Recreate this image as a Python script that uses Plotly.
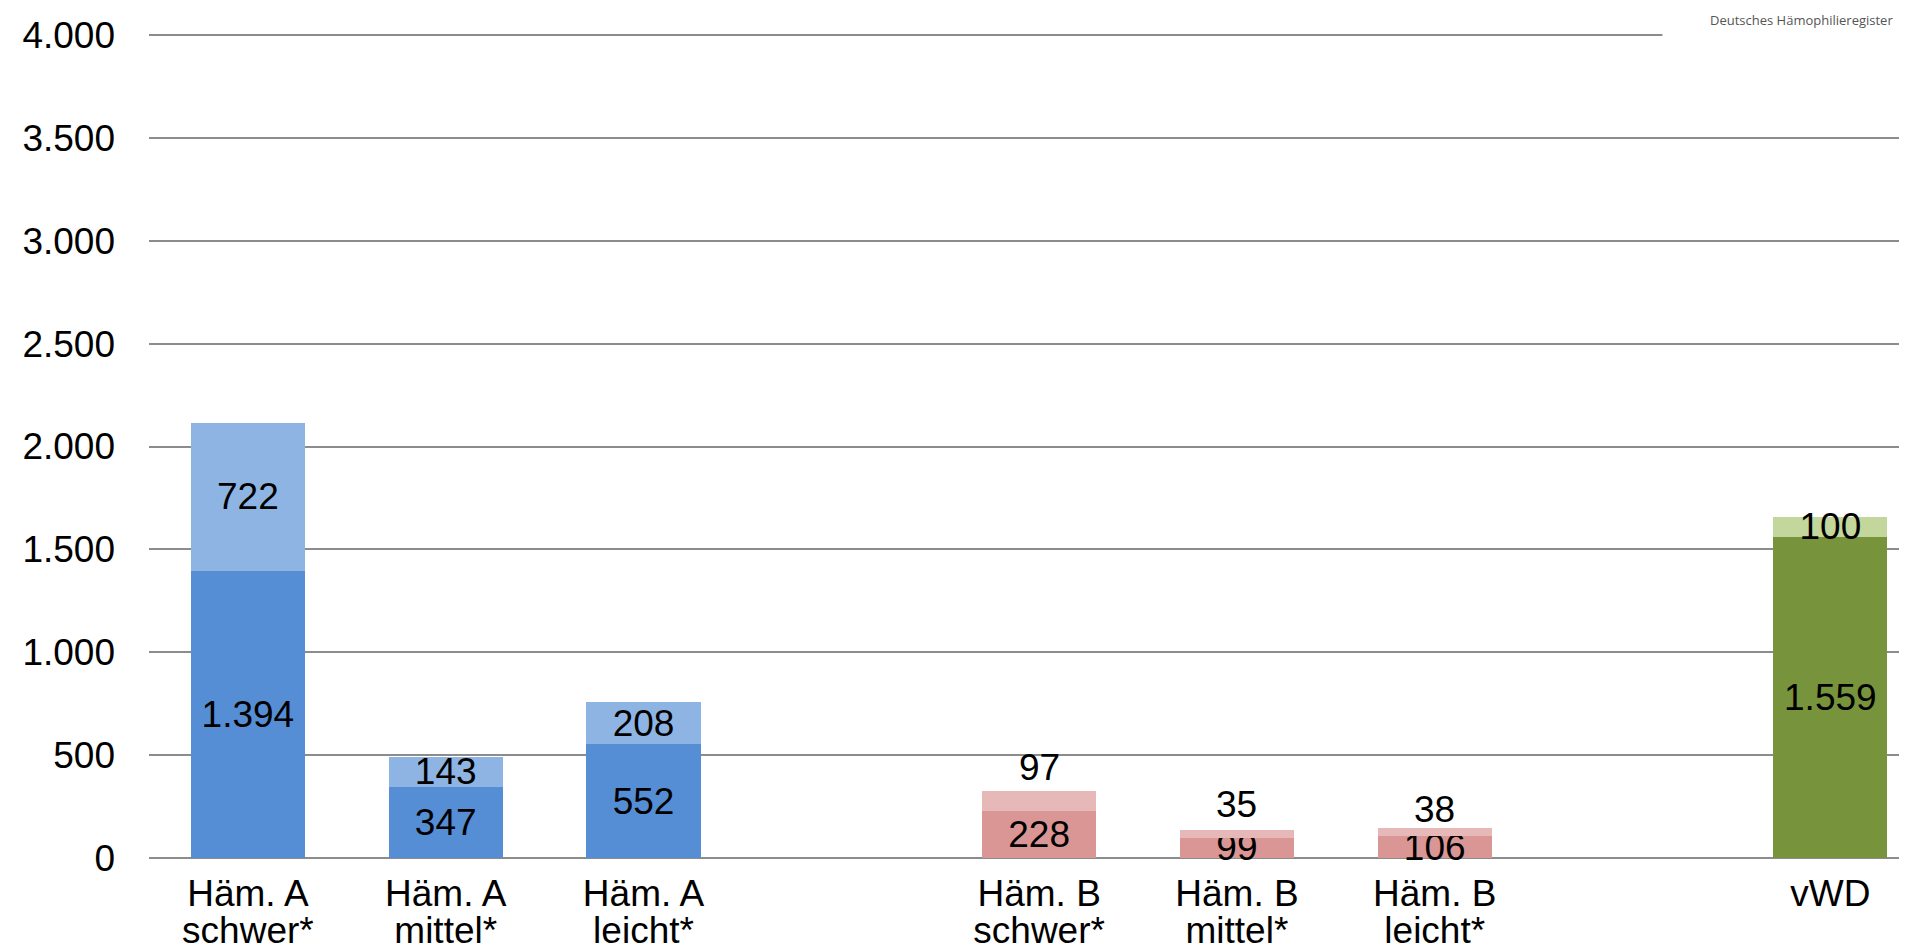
import plotly.graph_objects as go

categories = ["Häm. A schwer*", "Häm. A mittel*", "Häm. A leicht*", "gap1",
              "Häm. B schwer*", "Häm. B mittel*", "Häm. B leicht*", "gap2", "vWD"]
category_line1 = ["Häm. A", "Häm. A", "Häm. A", "", "Häm. B", "Häm. B", "Häm. B", "", "vWD"]
category_line2 = ["schwer*", "mittel*", "leicht*", "", "schwer*", "mittel*", "leicht*", "", ""]
base_values = [1394, 347, 552, None, 228, 99, 106, None, 1559]
top_values = [722, 143, 208, None, 97, 35, 38, None, 100]
base_colors = ["#558ED5", "#558ED5", "#558ED5", "#FFFFFF", "#D99694", "#D99694", "#D99694", "#FFFFFF", "#77933C"]
top_colors = ["#8EB4E3", "#8EB4E3", "#8EB4E3", "#FFFFFF", "#E6B9B8", "#E6B9B8", "#E6B9B8", "#FFFFFF", "#C3D69B"]
top_label_outside = [False, False, False, False, True, True, True, False, False]
outside_label_lift = [0, 0, 0, 0, 24, 26, 19, 0, 0]
y_ticks = [0, 500, 1000, 1500, 2000, 2500, 3000, 3500, 4000]


def de(v):
    return "" if v is None else f"{v:,}".replace(",", ".")


FONT = "Liberation Sans, Arial, sans-serif"
FS = 37

fig = go.Figure()
fig.add_trace(go.Bar(
    x=categories, y=base_values, marker=dict(color=base_colors, line=dict(width=0)),
    text=[de(v) for v in base_values], textposition="inside", insidetextanchor="middle",
    constraintext="none", textangle=0, cliponaxis=False,
    textfont=dict(family=FONT, size=FS, color="black"),
    width=0.577, showlegend=False, hoverinfo="skip"))
fig.add_trace(go.Bar(
    x=categories, y=top_values, marker=dict(color=top_colors, line=dict(width=0)),
    text=["" if o else de(v) for v, o in zip(top_values, top_label_outside)],
    textposition="inside", insidetextanchor="middle",
    constraintext="none", textangle=0, cliponaxis=False,
    textfont=dict(family=FONT, size=FS, color="black"),
    width=0.577, showlegend=False, hoverinfo="skip"))
# invisible helper trace so the second line of category labels gets its own axis
fig.add_trace(go.Scatter(
    x=categories, y=base_values, xaxis="x2", yaxis="y", mode="markers",
    marker=dict(opacity=0, size=1), showlegend=False, hoverinfo="skip"))

annotations = []
for c, b, t, o, lift in zip(categories, base_values, top_values, top_label_outside, outside_label_lift):
    if o:
        annotations.append(dict(
            x=c, y=b + t, xref="x", yref="y", text=de(t), showarrow=False,
            yanchor="middle", xanchor="center", yshift=lift,
            font=dict(family=FONT, size=FS, color="black")))

annotations.append(dict(
    text="Deutsches Hämophilieregister", xref="paper", yref="paper",
    x=0.9887, y=1.029, xanchor="right", yanchor="top", showarrow=False,
    font=dict(family="Open Sans, sans-serif", size=13, color="#555555")))

common_x = dict(
    type="category", categoryorder="array", categoryarray=categories,
    range=[-0.5, 8.428], showgrid=False, showline=False, zeroline=False, ticks="",
    tickfont=dict(family=FONT, size=FS, color="black"), tickangle=0,
    tickmode="array", tickvals=categories,
)

fig.update_layout(
    barmode="stack",
    width=1907, height=952,
    margin=dict(l=141, r=0, t=25, b=102),
    paper_bgcolor="white", plot_bgcolor="white",
    font=dict(family=FONT, size=FS, color="black"),
    separators=",.",
    xaxis=dict(**common_x, ticktext=category_line1, ticklabelstandoff=10),
    xaxis2=dict(**common_x, ticktext=category_line2, ticklabelstandoff=47,
                overlaying="x", side="bottom", anchor="y"),
    yaxis=dict(
        range=[0, 4010], tickvals=y_ticks, ticktext=[de(v) for v in y_ticks],
        showgrid=True, gridcolor="#8C8C8C", gridwidth=2,
        zeroline=True, zerolinecolor="#8C8C8C", zerolinewidth=2,
        showline=False, ticks="", ticklabelstandoff=33,
        tickfont=dict(family=FONT, size=FS, color="black"),
    ),
    shapes=[dict(type="rect", xref="paper", yref="paper", x0=0.857, x1=1.0,
                 y0=0.985, y1=1.03, fillcolor="white", line=dict(width=0), layer="above")],
    annotations=annotations,
)

fig.write_html("out.html")
